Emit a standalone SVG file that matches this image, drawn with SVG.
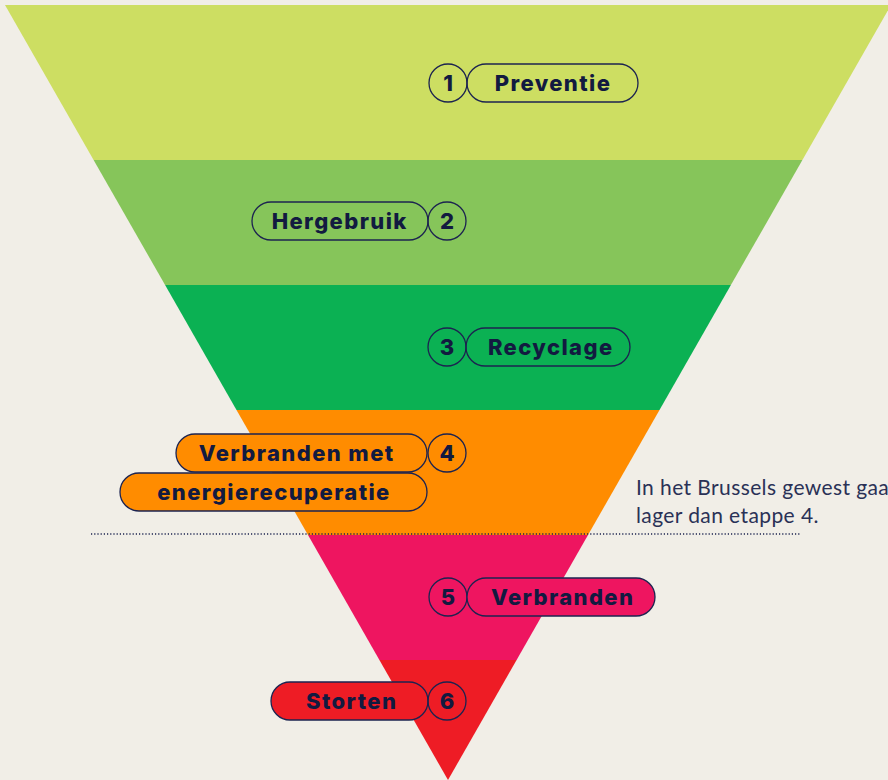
<svg xmlns="http://www.w3.org/2000/svg" width="888" height="780" viewBox="0 0 888 780">
<style>
.pill{stroke:#1c2350;stroke-width:1.3}
.num{fill:none;stroke:#1c2350;stroke-width:1.3}
.lbl{font-family:Inter,"Open Sans","Liberation Sans",sans-serif;font-weight:800;font-size:22px;fill:#121a40;text-anchor:middle;letter-spacing:1.4px}
.note{font-family:Lato,"Liberation Sans",sans-serif;font-size:21px;fill:#2a3156;letter-spacing:0.4px}
</style>
<rect width="888" height="780" fill="#f1eee7"/>
<g id="bands">
<polygon points="5,5 891,5 802.4,160 93.6,160" fill="#cdde62"/>
<polygon points="93.6,160 802.4,160 730.9,285 165.1,285" fill="#86c55a"/>
<polygon points="165.1,285 730.9,285 659.5,410 236.5,410" fill="#0bb153"/>
<polygon points="236.5,410 659.5,410 588,535 308,535" fill="#ff8c00"/>
<polygon points="308,535 588,535 516.6,660 379.4,660" fill="#ee1560"/>
<polygon points="379.4,660 516.6,660 448,780" fill="#ee1c25"/>
</g>
<g id="connectors">
<line x1="91" y1="534" x2="800" y2="534" stroke="#1c2350" stroke-width="1.3" stroke-dasharray="1.2 2" />
</g>
<g id="step1">
<circle class="num" cx="448" cy="83" r="19"/>
<rect class="pill" x="467" y="64" width="171" height="38" rx="19" fill="none"/>
<text class="lbl" x="448.7" y="91">1</text>
<text class="lbl" x="553" y="91">Preventie</text>
</g>
<g id="step2">
<rect class="pill" x="252" y="202" width="176" height="38" rx="19" fill="none"/>
<circle class="num" cx="447" cy="221" r="19"/>
<text class="lbl" x="339.7" y="229">Hergebruik</text>
<text class="lbl" x="447.7" y="229">2</text>
</g>
<g id="step3">
<circle class="num" cx="447" cy="347" r="19"/>
<rect class="pill" x="466" y="328" width="164" height="38" rx="19" fill="none"/>
<text class="lbl" x="447.7" y="355">3</text>
<text class="lbl" x="550.7" y="355">Recyclage</text>
</g>
<g id="step4">
<rect class="pill" x="120" y="473" width="307" height="38" rx="19" fill="#ff8c00"/>
<rect class="pill" x="176" y="434" width="251" height="38" rx="19" fill="#ff8c00"/>
<circle class="num" cx="447" cy="453" r="19"/>
<text class="lbl" x="296.7" y="461">Verbranden met</text>
<text class="lbl" x="274" y="500">energierecuperatie</text>
<text class="lbl" x="447.7" y="461">4</text>
</g>
<g id="note">
<text class="note" x="636" y="495">In het Brussels gewest gaat</text>
<text class="note" x="636" y="523">lager dan etappe 4.</text>
</g>
<g id="step5">
<circle class="num" cx="448" cy="597" r="19"/>
<rect class="pill" x="467" y="578" width="188" height="38" rx="19" fill="#ee1560"/>
<text class="lbl" x="448.7" y="605">5</text>
<text class="lbl" x="562.7" y="605">Verbranden</text>
</g>
<g id="step6">
<rect class="pill" x="271" y="682" width="157" height="38" rx="19" fill="#ee1c25"/>
<circle class="num" cx="447" cy="701" r="19"/>
<text class="lbl" x="351.7" y="709">Storten</text>
<text class="lbl" x="447.7" y="709">6</text>
</g>
</svg>
